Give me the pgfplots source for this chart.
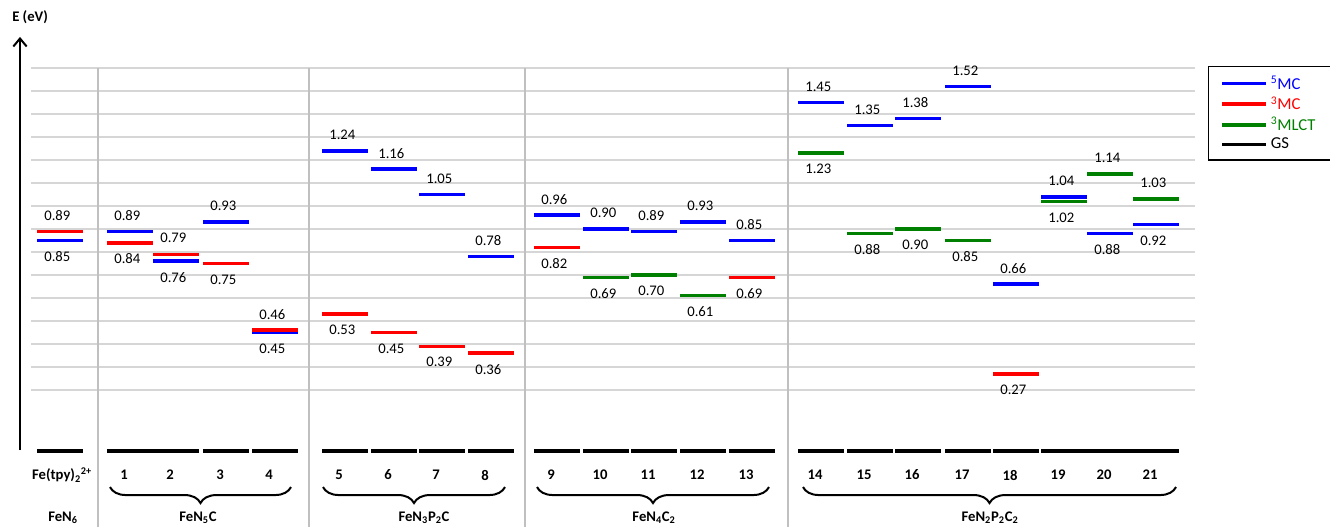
\documentclass[border=0pt]{standalone}
\usepackage{fontspec}
\setmainfont{Carlito}
\usepackage{pgfplots}
\pgfplotsset{compat=1.18}
\usepackage{pgfplotstable}
\usetikzlibrary{arrows.meta,decorations.pathreplacing}

\definecolor{mcblue}{RGB}{0,0,255}
\definecolor{mcred}{RGB}{255,0,0}
\definecolor{mlctgreen}{RGB}{0,128,0}
\definecolor{gridgray}{RGB}{214,214,214}
\definecolor{sepgray}{RGB}{192,192,192}

% x = column centre (px), y = energy (eV), s = label above (1) / below (-1)
\pgfplotstableread{
x    y    s
60   0.85 -1
130  0.89  1
176  0.76 -1
226  0.93  1
275  0.45 -1
345  1.24  1
394  1.16  1
442  1.05  1
491  0.78  1
557  0.96  1
606  0.90  1
654  0.89  1
703  0.93  1
752  0.85  1
821  1.45  1
870  1.35  1
918  1.38  1
968  1.52  1
1016 0.66  1
1064 1.04  1
1110 0.88 -1
1156 0.92 -1
}\quintetMC

\pgfplotstableread{
x    y    s
60   0.89  1
130  0.84 -1
176  0.79  1
226  0.75 -1
275  0.46  1
345  0.53 -1
394  0.45 -1
442  0.39 -1
491  0.36 -1
557  0.82 -1
752  0.69 -1
1016 0.27 -1
}\tripletMC

\pgfplotstableread{
x    y    s
606  0.69 -1
654  0.70 -1
703  0.61 -1
821  1.23 -1
870  0.88 -1
918  0.90 -1
968  0.85 -1
1064 1.02 -1
1110 1.14  1
1156 1.03  1
}\tripletMLCT

\pgfplotstableread{
x    y
60   -0.065
130  -0.065
176  -0.065
226  -0.065
275  -0.065
345  -0.065
394  -0.065
442  -0.065
491  -0.065
557  -0.065
606  -0.065
654  -0.065
703  -0.065
752  -0.065
821  -0.065
870  -0.065
918  -0.065
968  -0.065
1016 -0.065
1064 -0.065
1110 -0.065
1156 -0.065
}\groundstate

\pgfplotsset{
  level/.style={only marks, mark=-, mark size=16.9pt,
    mark options={line width=2.6pt, #1}, forget plot},
  levellabels/.style={
    nodes near coords, point meta=explicit symbolic,
    visualization depends on={\thisrow{s} \as \side},
    every node near coord/.append style={anchor=center,
      yshift=\side*12pt, xshift=-2pt, text=black,
      font=\fontsize{11}{13}\selectfont}},
}

\begin{document}
\begin{tikzpicture}
\begin{axis}[
  name=ax,
  scale only axis,
  width=997.5pt, height=395.25pt,
  xmin=0, xmax=1330,
  ymin=-0.39565, ymax=1.89565,
  hide axis,
  clip=false,
  legend style={at={(axis cs:1208,1.609)}, anchor=north west,
    draw=black, line width=0.9pt, inner xsep=9pt, inner ysep=5pt,
    row sep=0pt, font=\fontsize{12.5}{14}\selectfont,
    nodes={inner ysep=2pt},
    /tikz/every even column/.append style={column sep=4pt}},
  legend cell align=left,
]
% horizontal guide lines
\pgfplotsinvokeforeach{0.2,0.3,0.4,0.5,0.6,0.7,0.8,0.9,1.0,1.1,1.2,1.3,1.4,1.5,1.6}{
  \draw[gridgray, line width=1.1pt] (axis cs:31,#1) -- (axis cs:1195,#1);
}
% group separators
\pgfplotsinvokeforeach{98,309,525,788}{
  \draw[sepgray, line width=1.5pt] (axis cs:#1,1.6) -- (axis cs:#1,-0.39565);
}

\addlegendimage{legend image code/.code={\draw[mcblue, line width=2.6pt] (0pt,0pt) -- (33pt,0pt);}}
\addlegendentry{\textcolor{mcblue}{\textsuperscript{5}MC}}
\addlegendimage{legend image code/.code={\draw[mcred, line width=2.6pt] (0pt,0pt) -- (33pt,0pt);}}
\addlegendentry{\textcolor{mcred}{\textsuperscript{3}MC}}
\addlegendimage{legend image code/.code={\draw[mlctgreen, line width=2.6pt] (0pt,0pt) -- (33pt,0pt);}}
\addlegendentry{\textcolor{mlctgreen}{\textsuperscript{3}MLCT}\hspace{10pt}}
\addlegendimage{legend image code/.code={\draw[black, line width=2.6pt] (0pt,0pt) -- (33pt,0pt);}}
\addlegendentry{GS}

\addplot[level=mcblue, levellabels] table[x=x, y=y, meta=y] {\quintetMC};
\addplot[level=mcred, levellabels] table[x=x, y=y, meta=y] {\tripletMC};
\addplot[level=mlctgreen, levellabels] table[x=x, y=y, meta=y] {\tripletMLCT};
\addplot[only marks, mark=-, mark size=16.9pt, mark options={line width=3pt, black}, forget plot]
  table[x=x, y=y] {\groundstate};

% energy axis arrow
\draw[line width=1.5pt, -{Straight Barb[length=6pt, width=10pt, line width=1.5pt]}]
  (axis cs:20,-0.061) -- (axis cs:20,1.735);
\node[anchor=west, font=\bfseries\fontsize{11}{13}\selectfont, inner sep=0pt]
  at (axis cs:12,1.822) {E (eV)};

% compound numbers
\begin{scope}[every node/.style={font=\bfseries\fontsize{11}{13}\selectfont}]
\node at (axis cs:62,-0.1696) {Fe(tpy)\textsubscript{2}\textsuperscript{2+}};
\node at (axis cs:124,-0.1696) {1};
\node at (axis cs:170,-0.1696) {2};
\node at (axis cs:220,-0.1696) {3};
\node at (axis cs:269,-0.1696) {4};
\node at (axis cs:339,-0.1696) {5};
\node at (axis cs:388,-0.1696) {6};
\node at (axis cs:436,-0.1696) {7};
\node at (axis cs:485,-0.1696) {8};
\node at (axis cs:551,-0.1696) {9};
\node at (axis cs:600,-0.1696) {10};
\node at (axis cs:648,-0.1696) {11};
\node at (axis cs:697,-0.1696) {12};
\node at (axis cs:746,-0.1696) {13};
\node at (axis cs:815,-0.1696) {14};
\node at (axis cs:864,-0.1696) {15};
\node at (axis cs:912,-0.1696) {16};
\node at (axis cs:962,-0.1696) {17};
\node at (axis cs:1010,-0.1696) {18};
\node at (axis cs:1058,-0.1696) {19};
\node at (axis cs:1104,-0.1696) {20};
\node at (axis cs:1150,-0.1696) {21};
% coordination families
\node at (axis cs:63,-0.3565) {FeN\textsubscript{6}};
\node at (axis cs:198,-0.3565) {FeN\textsubscript{5}C};
\node at (axis cs:424,-0.3565) {FeN\textsubscript{3}P\textsubscript{2}C};
\node at (axis cs:654,-0.3565) {FeN\textsubscript{4}C\textsubscript{2}};
\node at (axis cs:990,-0.3565) {FeN\textsubscript{2}P\textsubscript{2}C\textsubscript{2}};
\end{scope}

% braces
\begin{scope}[line width=1.5pt, decoration={brace, mirror, amplitude=12pt}]
\draw[decorate] (axis cs:110,-0.222) -- (axis cs:291,-0.222);
\draw[decorate] (axis cs:323,-0.222) -- (axis cs:505,-0.222);
\draw[decorate] (axis cs:537,-0.222) -- (axis cs:769,-0.222);
\draw[decorate] (axis cs:803,-0.222) -- (axis cs:1176,-0.222);
\end{scope}
\end{axis}
\pgfresetboundingbox
\useasboundingbox (ax.south west) rectangle (ax.north east);
\end{tikzpicture}
\end{document}
